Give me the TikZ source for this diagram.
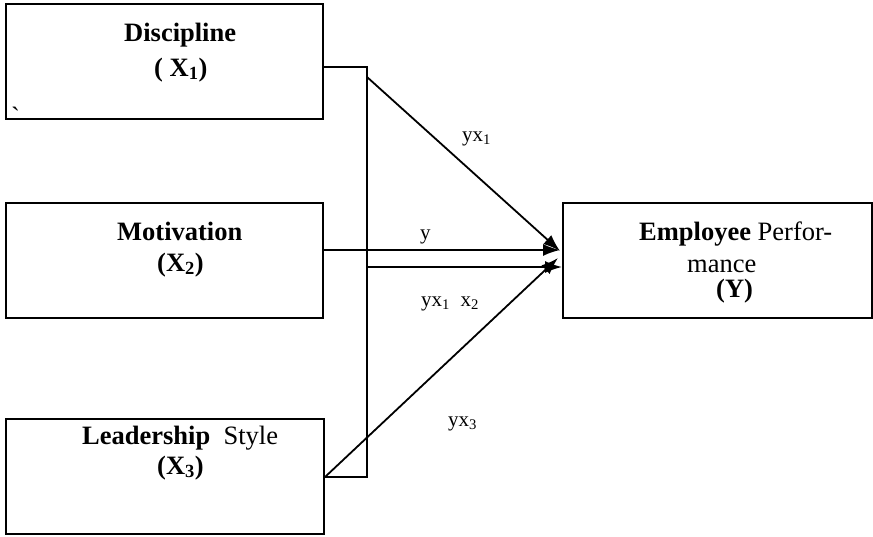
\documentclass[tikz,border=0pt]{standalone}
\usepackage{fontspec}
\setmainfont{Liberation Serif}
\newfontfamily\rawfont[Ligatures=TeXOff]{Liberation Serif}
\usepackage{tikz}
\usetikzlibrary{positioning}
\usetikzlibrary{arrows.meta}
\tikzstyle{box} = [draw, line width=2pt, minimum height=115pt, inner sep=0pt]
\tikzstyle{edge} = [draw, line width=1.8pt]
\tikzstyle{arc} = [draw, line width=1.8pt, -{Latex[length=17pt,width=12pt]}]
\tikzstyle{title} = [font=\fontsize{26.5}{30}\selectfont, anchor=base west, inner sep=0pt]
\tikzstyle{weight} = [font=\fontsize{21}{24}\selectfont, anchor=base west, inner sep=0pt]

\begin{document}
\begin{tikzpicture}[x=1pt, y=-1pt]
  \useasboundingbox (0,0) rectangle (873,536);

  % the four boxes
  \foreach \name/\x/\y/\w in {disc/164.5/61.5/317, moti/164.5/260.5/317, lead/165/476.5/318, perf/717.5/260/309}
     \node[box, minimum width=\w pt] (\name) at (\x,\y) {};

  % texts in the boxes
  \foreach \name/\x/\y/\label in {t1/124/41/{\textbf{Discipline}}, t2/154/76/{\textbf{( X\textsubscript{1})}},
        t3/117/240/{\textbf{Motivation}}, t4/157/271/{\textbf{(X\textsubscript{2})}},
        t5/82/444/{\textbf{Leadership}~\ Style}, t6/157/474/{\textbf{(X\textsubscript{3})}},
        t7/639/240/{\textbf{Employee} Perfor-}, t8/687/272/{mance}, t9/716/297/{\textbf{(Y)}}}
     \node[title] (\name) at (\x,\y) {\label};
  \node[title] (tick) at (11,125) {\rawfont\char96};

  % bus on the left
  \coordinate (b1) at (367,67);
  \coordinate (b3) at (367,477);
  \coordinate (d1) at (367,77);
  \draw[edge] (disc.east |- b1) -- (b1) -- (b3) -- (lead.east |- b3);

  % arrow ends at Y
  \coordinate (e1) at (560,251);
  \coordinate (e2) at (560,250);
  \coordinate (e3) at (562,267);
  \coordinate (e4) at (558,258);

  \draw[arc] (d1) -- (e1);
  \draw[arc] (moti.east |- e2) -- (e2);
  \draw[arc] (b1 |- e3) -- (e3);
  \draw[arc] (lead.east |- b3) -- (e4);

  % path labels
  \foreach \name/\x/\y/\label in {w1/462/141/{yx\textsubscript{1}}, w2/420/239/{y},
        w3/421/306/{yx\textsubscript{1}~\ x\textsubscript{2}}, w4/448/426/{yx\textsubscript{3}}}
     \node[weight] (\name) at (\x,\y) {\label};
\end{tikzpicture}
\end{document}
